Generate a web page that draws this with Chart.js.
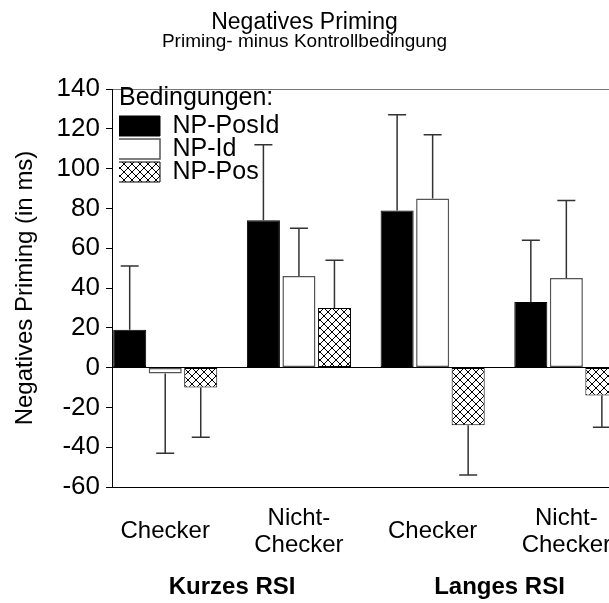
<!DOCTYPE html>
<html>
<head>
<meta charset="utf-8">
<script src="https://cdn.jsdelivr.net/npm/chart.js@4/dist/chart.umd.min.js"></script>
<style>
  html, body { margin: 0; padding: 0; background: #fff; }
  #wrap { width: 609px; height: 603px; }
</style>
</head>
<body>
<div id="wrap"><canvas id="chart" width="609" height="603"></canvas></div>
<script>
const categories = ['Checker', ['Nicht-', 'Checker'], 'Checker', ['Nicht-', 'Checker']];
const groupLabels = ['Kurzes RSI', 'Langes RSI'];
const seriesNames = ['NP-PosId', 'NP-Id', 'NP-Pos'];
const npPosId = [19, 74, 79, 33];
const npId = [-3, 46, 85, 45];
const npPos = [-10, 30, -29, -14];
const errPosId = [32, 38, 48, 31];
const errId = [40, 24, 32, 39];
const errPos = [25, 24, 25, 16];
const yTicks = [-60, -40, -20, 0, 20, 40, 60, 80, 100, 120, 140];

Chart.defaults.font.family = "'Liberation Sans', Arial, sans-serif";
Chart.defaults.color = '#000';

// cross hatch for the third series
function hatch() {
  const c = document.createElement('canvas');
  c.width = 8; c.height = 8;
  const g = c.getContext('2d');
  g.fillStyle = '#fff';
  g.fillRect(0, 0, 8, 8);
  g.strokeStyle = '#000';
  g.lineWidth = 1;
  g.beginPath();
  g.moveTo(-2, -2); g.lineTo(10, 10);
  g.moveTo(10, -2); g.lineTo(-2, 10);
  g.stroke();
  return g.createPattern(c, 'repeat');
}

const xMin = -0.398, xMax = 3.319;

const errorBars = {
  id: 'errorBars',
  afterDatasetsDraw(chart) {
    const ctx = chart.ctx;
    const y = chart.scales.y;
    ctx.save();
    ctx.strokeStyle = '#333';
    ctx.lineWidth = 1.5;
    chart.data.datasets.forEach((ds, i) => {
      chart.getDatasetMeta(i).data.forEach((bar, j) => {
        const v = ds.data[j].y;
        const e = ds.errors[j];
        const base = y.getPixelForValue(v);
        const tip = y.getPixelForValue(v < 0 ? v - e : v + e);
        ctx.beginPath();
        ctx.moveTo(bar.x, base); ctx.lineTo(bar.x, tip);
        ctx.moveTo(bar.x - 9, tip); ctx.lineTo(bar.x + 9, tip);
        ctx.stroke();
      });
    });
    ctx.restore();
  }
};

// put the legend in the top left corner of the plot
const legendCorner = {
  id: 'legendCorner',
  beforeDraw(chart) {
    const a = chart.chartArea;
    chart.legend.left = a.left + 7;
    chart.legend.top = a.top - 3.5;
  }
};

function bars(label, values, errors, fill, border, width) {
  return {
    label: label,
    data: values.map((v, i) => ({ x: i, y: v })),
    errors: errors,
    backgroundColor: fill,
    borderColor: border,
    borderWidth: width,
    borderSkipped: false,
    categoryPercentage: 0.797,
    barPercentage: 0.93
  };
}

new Chart(document.getElementById('chart'), {
  type: 'bar',
  data: {
    datasets: [
      bars(seriesNames[0], npPosId, errPosId, '#000', '#000', 1),
      bars(seriesNames[1], npId, errId, '#fff', '#555', 1.5),
      bars(seriesNames[2], npPos, errPos, hatch(), '#000', 1)
    ]
  },
  options: {
    responsive: false,
    animation: false,
    layout: { padding: { left: 0, right: 0, top: 0, bottom: 1 } },
    plugins: {
      tooltip: { enabled: false },
      title: {
        display: true,
        text: 'Negatives Priming',
        color: '#000',
        font: { size: 23, weight: 'normal', lineHeight: 1 },
        padding: { top: 11, bottom: -2 }
      },
      subtitle: {
        display: true,
        text: 'Priming- minus Kontrollbedingung',
        color: '#000',
        font: { size: 19, lineHeight: 1 },
        padding: { top: 0, bottom: 38 }
      },
      legend: {
        position: 'chartArea',
        align: 'start',
        labels: { boxWidth: 43, boxHeight: 20, padding: -2, color: '#000', font: { size: 25 } },
        title: { display: true, text: 'Bedingungen:', position: 'start', color: '#000', font: { size: 25 }, padding: 0 }
      }
    },
    scales: {
      x: {
        type: 'linear',
        offset: false,
        min: xMin, max: xMax,
        weight: 0,
        grid: { display: false, drawTicks: false, offset: false },
        border: { display: true, color: '#000', width: 1 },
        ticks: {
          autoSkip: false, maxRotation: 0, crossAlign: 'center', padding: 31,
          font: { size: 24, lineHeight: 1.125 }, color: '#000',
          callback: v => categories[v]
        },
        afterBuildTicks: s => { s.ticks = categories.map((c, i) => ({ value: i })); },
        afterFit: s => { s.paddingLeft = 0; s.paddingRight = 0; s.height = 72; }
      },
      x2: {
        type: 'linear',
        axis: 'x',
        position: 'bottom',
        offset: false,
        min: xMin, max: xMax,
        weight: 1,
        grid: { display: false, drawTicks: false, offset: false },
        border: { display: false },
        ticks: {
          autoSkip: false, maxRotation: 0, crossAlign: 'center', padding: 28.5,
          font: { size: 24, weight: 'bold' }, color: '#000',
          callback: v => groupLabels[Math.round((v - 0.5) / 2)]
        },
        afterBuildTicks: s => { s.ticks = groupLabels.map((g, i) => ({ value: 2 * i + 0.5 })); },
        afterFit: s => { s.paddingLeft = 0; s.paddingRight = 0; s.height = 43; }
      },
      y: {
        min: -60, max: 140,
        afterBuildTicks: s => { s.ticks = yTicks.map(v => ({ value: v })); },
        ticks: { font: { size: 26 }, color: '#000', padding: 6 },
        grid: {
          color: c => c.tick && c.tick.value === 0 ? '#000' : (c.tick && c.tick.value === 140 ? '#777' : 'rgba(0,0,0,0)'),
          tickColor: '#000',
          tickLength: 6,
          lineWidth: 1
        },
        border: { color: '#000', width: 1 },
        title: {
          display: true,
          text: 'Negatives Priming (in ms)',
          color: '#000',
          font: { size: 24 },
          padding: { top: 11, bottom: 0 }
        },
        afterFit: s => { s.width = 112; }
      }
    }
  },
  plugins: [errorBars, legendCorner]
});
</script>
</body>
</html>
